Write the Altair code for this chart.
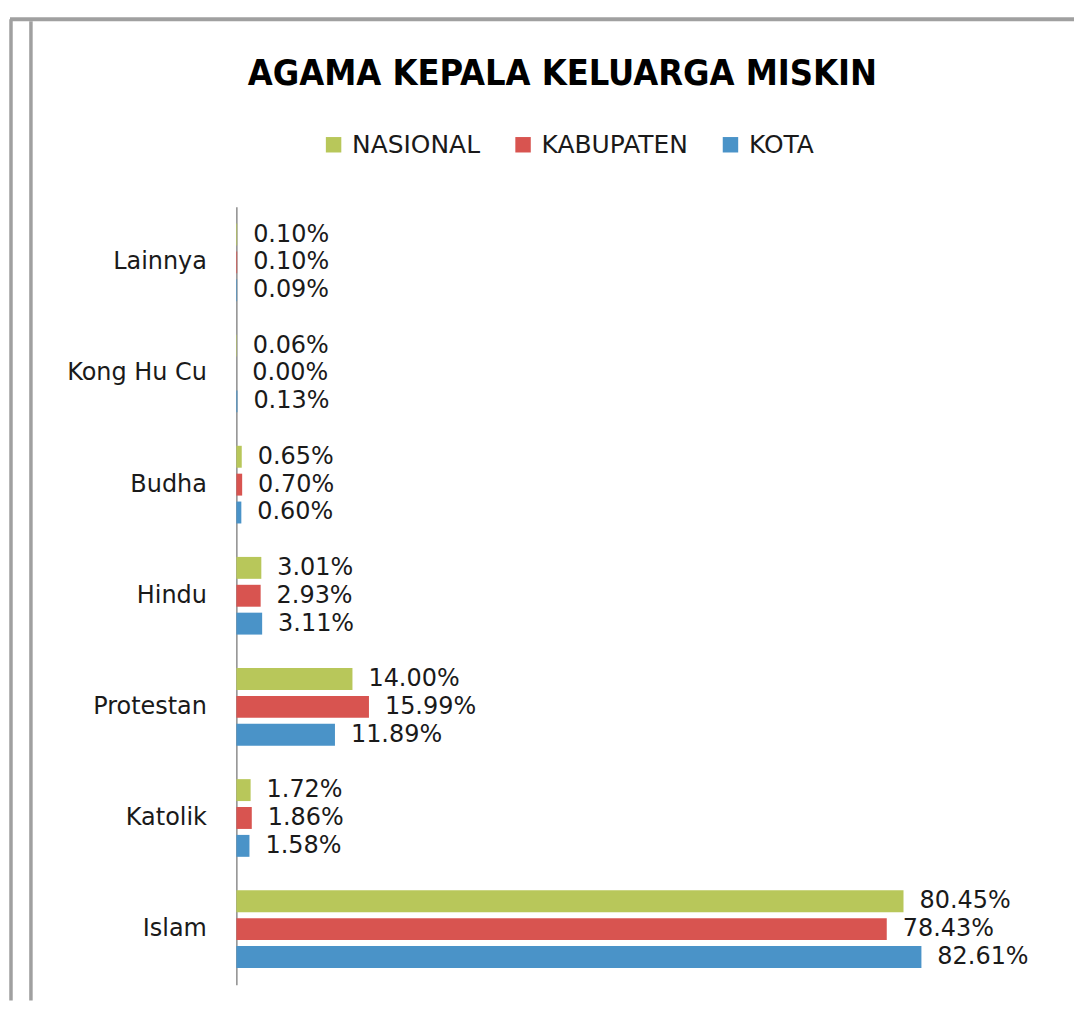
import altair as alt
import pandas as pd

categories = ["Lainnya", "Kong Hu Cu", "Budha", "Hindu", "Protestan", "Katolik", "Islam"]
series = ["NASIONAL", "KABUPATEN", "KOTA"]
nasional = [0.10, 0.06, 0.65, 3.01, 14.00, 1.72, 80.45]
kabupaten = [0.10, 0.00, 0.70, 2.93, 15.99, 1.86, 78.43]
kota = [0.09, 0.13, 0.60, 3.11, 11.89, 1.58, 82.61]
colors = ["#B8C75A", "#D85450", "#4A93C8"]

rows = []
for s, vals in zip(series, [nasional, kabupaten, kota]):
    for c, v in zip(categories, vals):
        rows.append({"agama": c, "seri": s, "nilai": v, "label": f"{v:.2f}%"})
df = pd.DataFrame(rows)

FONT = "DejaVu Sans"
W, H = 800, 780
xmax = W / 8.316

base = alt.Chart(df).encode(
    y=alt.Y("agama:N", sort=categories,
            scale=alt.Scale(paddingInner=0, paddingOuter=0),
            axis=alt.Axis(title=None, ticks=False, labelFont=FONT, labelFontSize=24,
                          labelColor="#1a1a1a", labelPadding=30, domainColor="#8c8c8c",
                          domainWidth=1.5, grid=False)),
    yOffset=alt.YOffset("seri:N", sort=series,
                        scale=alt.Scale(paddingInner=0.214, paddingOuter=0.6)),
)

bars = base.mark_bar().encode(
    x=alt.X("nilai:Q", scale=alt.Scale(domain=[0, xmax], nice=False), axis=None),
    color=alt.Color("seri:N", sort=series,
                    scale=alt.Scale(domain=series, range=colors),
                    legend=alt.Legend(title=None, orient="none", direction="horizontal",
                                      legendX=85, legendY=-75, symbolType="square",
                                      symbolSize=240, symbolStrokeWidth=0,
                                      labelFont=FONT, labelFontSize=25, labelColor="#1a1a1a",
                                      labelOffset=6, columnPadding=30, padding=0)),
)

labels = base.mark_text(align="left", baseline="middle", dx=16, font=FONT,
                        fontSize=24, color="#1a1a1a").encode(
    x=alt.X("nilai:Q", scale=alt.Scale(domain=[0, xmax], nice=False), axis=None),
    text="label:N",
)

frame_top = alt.Chart(pd.DataFrame({"k": [0]})).mark_rule(
    color="#a0a0a0", strokeWidth=4).encode(
    x=alt.value(-227), x2=alt.value(840), y=alt.value(-188))
frame_left = alt.Chart(pd.DataFrame({"k": [0]})).mark_rule(
    color="#a0a0a0", strokeWidth=3.5).encode(
    x=alt.value(-226), y=alt.value(-188), y2=alt.value(796))
frame_inner = alt.Chart(pd.DataFrame({"k": [0]})).mark_rule(
    color="#a0a0a0", strokeWidth=3.5).encode(
    x=alt.value(-206), y=alt.value(-186), y2=alt.value(796))

chart = alt.layer(frame_top, frame_left, frame_inner, bars, labels).properties(
    width=W, height=H,
    background="#ffffff",
    padding={"left": 0, "top": 8, "right": 0, "bottom": 0},
    title=alt.TitleParams("AGAMA KEPALA KELUARGA MISKIN",
                          font="DejaVu Sans Condensed, DejaVu Sans",
                          fontSize=36, fontWeight="bold", color="#000000",
                          anchor="middle", frame="group", dx=-73, offset=0, dy=76),
).configure_view(stroke=None, strokeWidth=0)

chart.save("out.html", embed_options={"renderer": "svg", "actions": False})
